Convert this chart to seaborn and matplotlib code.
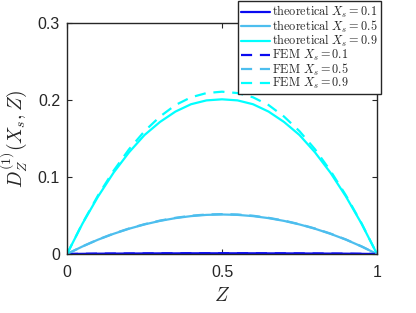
import numpy as np
import pandas as pd
import matplotlib
matplotlib.use("Agg")
import matplotlib.pyplot as plt
import seaborn as sns

Z = [0.0, 0.05, 0.1, 0.15, 0.2, 0.25, 0.3, 0.35, 0.4, 0.45, 0.5,
     0.55, 0.6, 0.65, 0.7, 0.75, 0.8, 0.85, 0.9, 0.95, 1.0]

theo_01 = [0.0, 0.0002, 0.0004, 0.0005, 0.0006, 0.0007, 0.0008, 0.0008, 0.0009, 0.0009, 0.0009,
           0.0009, 0.0009, 0.0008, 0.0008, 0.0007, 0.0006, 0.0005, 0.0004, 0.0002, 0.0]
theo_05 = [0.0, 0.0098, 0.0186, 0.0262, 0.0328, 0.0384, 0.0430, 0.0466, 0.0492, 0.0508, 0.0513,
           0.0508, 0.0492, 0.0466, 0.0430, 0.0384, 0.0328, 0.0262, 0.0186, 0.0098, 0.0]
theo_09 = [0.0, 0.0395, 0.0745, 0.1055, 0.1320, 0.1545, 0.1715, 0.1850, 0.1945, 0.1995, 0.2009,
           0.1995, 0.1945, 0.1850, 0.1715, 0.1545, 0.1320, 0.1055, 0.0745, 0.0395, 0.0]
fem_01 = [0.0, 0.0002, 0.0004, 0.0005, 0.0006, 0.0007, 0.0008, 0.0008, 0.0009, 0.0009, 0.0009,
          0.0009, 0.0009, 0.0008, 0.0008, 0.0007, 0.0006, 0.0005, 0.0004, 0.0002, 0.0]
fem_05 = [0.0, 0.0099, 0.0188, 0.0265, 0.0331, 0.0387, 0.0434, 0.0470, 0.0497, 0.0513, 0.0518,
          0.0513, 0.0497, 0.0470, 0.0434, 0.0387, 0.0331, 0.0265, 0.0188, 0.0099, 0.0]
fem_09 = [0.0, 0.0400, 0.0760, 0.1080, 0.1360, 0.1595, 0.1785, 0.1935, 0.2035, 0.2090, 0.2108,
          0.2090, 0.2035, 0.1935, 0.1785, 0.1595, 0.1360, 0.1080, 0.0760, 0.0400, 0.0]

labels = [r"$\mathrm{theoretical}\ X_s = 0.1$", r"$\mathrm{theoretical}\ X_s = 0.5$",
          r"$\mathrm{theoretical}\ X_s = 0.9$", r"$\mathrm{FEM}\ X_s = 0.1$",
          r"$\mathrm{FEM}\ X_s = 0.5$", r"$\mathrm{FEM}\ X_s = 0.9$"]
series = [theo_01, theo_05, theo_09, fem_01, fem_05, fem_09]
colors = ["#0a0af0", "#4dbeee", "#00ffff", "#0a0af0", "#4dbeee", "#00ffff"]
styles = ["-", "-", "-", "--", "--", "--"]

sns.set_theme(style="white")
plt.rcParams["font.family"] = ["Liberation Sans", "DejaVu Sans"]
plt.rcParams["mathtext.fontset"] = "cm"

fig = plt.figure(figsize=(4.16, 3.13), dpi=100)
ax = fig.add_axes([67/416, 1 - 254/313, (377-67)/416, (254-23)/313])

for vals, lab, col, ls in zip(series, labels, colors, styles):
    df = pd.DataFrame({"Z": Z, "D": vals})
    sns.lineplot(data=df, x="Z", y="D", ax=ax, color=col, linestyle=ls,
                 linewidth=1.6, label=lab)
for line, ls in zip(ax.get_lines(), styles):
    if ls == "--":
        line.set_dashes([5, 3.5])

ax.set_xlim(0, 1)
ax.set_ylim(0, 0.3)
ax.set_xticks([0, 0.5, 1])
ax.set_xticklabels(["0", "0.5", "1"])
ax.set_yticks([0, 0.1, 0.2, 0.3])
ax.set_yticklabels(["0", "0.1", "0.2", "0.3"])
ax.tick_params(direction="in", length=3.5, width=0.8, colors="#262626",
               labelsize=11.5, top=True, right=True, bottom=True, left=True,
               labelcolor="#262626")
ax.tick_params(axis="x", pad=8)
ax.tick_params(axis="y", pad=5)
for s in ax.spines.values():
    s.set_color("#262626")
    s.set_linewidth(1.0)
    s.set_visible(True)

ax.set_xlabel(r"$Z$", fontsize=14, color="#262626", labelpad=5)
ax.set_ylabel(r"$D_Z^{(1)}(X_s,Z)$", fontsize=14, color="#262626", labelpad=6)

leg = ax.legend(loc="upper right", bbox_to_anchor=(381/416, 1 - 1/313),
                bbox_transform=fig.transFigure, fontsize=8.8, frameon=True,
                fancybox=False, borderaxespad=0, borderpad=0.25,
                labelspacing=-0.12, handlelength=2.4, handletextpad=0.2)
leg.get_frame().set_edgecolor("#262626")
leg.get_frame().set_linewidth(1.0)
leg.get_frame().set_alpha(1)

fig.savefig("out.png", dpi=100)
